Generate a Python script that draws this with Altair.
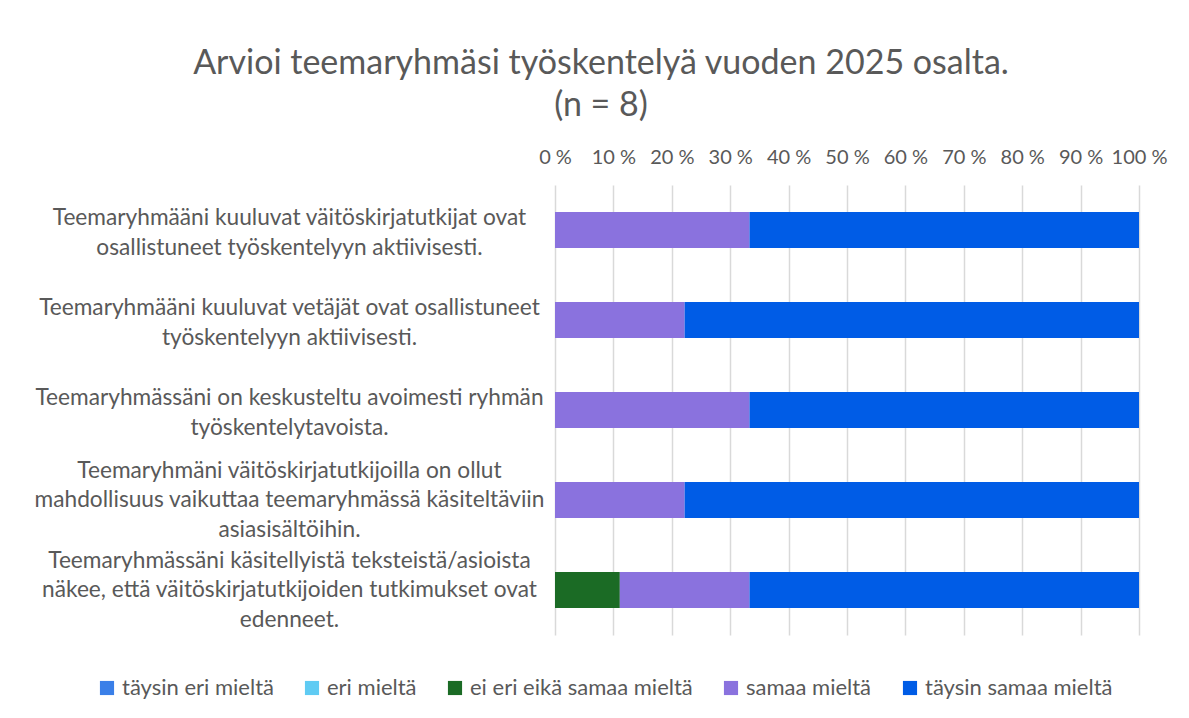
import altair as alt
import pandas as pd

questions = [
    "Teemaryhmääni kuuluvat väitöskirjatutkijat ovat|osallistuneet työskentelyyn aktiivisesti.",
    "Teemaryhmääni kuuluvat vetäjät ovat osallistuneet|työskentelyyn aktiivisesti.",
    "Teemaryhmässäni on keskusteltu avoimesti ryhmän|työskentelytavoista.",
    "Teemaryhmäni väitöskirjatutkijoilla on ollut|mahdollisuus vaikuttaa teemaryhmässä käsiteltäviin|asiasisältöihin.",
    "Teemaryhmässäni käsitellyistä teksteistä/asioista|näkee, että väitöskirjatutkijoiden tutkimukset ovat|edenneet.",
]
series = ["täysin eri mieltä", "eri mieltä", "ei eri eikä samaa mieltä", "samaa mieltä", "täysin samaa mieltä"]
colors = ["#3A7FE8", "#5FCBF3", "#1B6B25", "#8A72DE", "#005CE6"]

taysin_eri = [0, 0, 0, 0, 0]
eri = [0, 0, 0, 0, 0]
ei_eri_eika = [0, 0, 0, 0, 11.1]
samaa = [33.3, 22.2, 33.3, 22.2, 22.2]
taysin_samaa = [66.7, 77.8, 66.7, 77.8, 66.7]

values = [taysin_eri, eri, ei_eri_eika, samaa, taysin_samaa]
rows = []
for si, s in enumerate(series):
    for qi, q in enumerate(questions):
        rows.append({"q": q, "s": s, "v": values[si][qi], "o": si})
df = pd.DataFrame(rows)

FONT = "Lato"
GREY = "#595959"

chart = alt.Chart(df).mark_bar().encode(
    y=alt.Y("q:N", sort=questions, title=None,
            scale=alt.Scale(paddingInner=0.6, paddingOuter=0.3),
            axis=alt.Axis(labelExpr="split(datum.label, '|')", labelAlign="center",
                          labelBaseline="middle", labelPadding=266, labelLimit=700,
                          labelLineHeight=29.5, labelFontSize=22.7, labelColor=GREY,
                          labelFont=FONT, ticks=False, domain=False, grid=False,
                          labelOffset={"condition": {"test": "indexof(datum.label, '|') != lastindexof(datum.label, '|')",
                                                     "value": -29.5},
                                       "value": -12})),
    x=alt.X("v:Q", stack="zero", title=None,
            scale=alt.Scale(domain=[0, 100], nice=False),
            axis=alt.Axis(orient="top", values=list(range(0, 101, 10)),
                          labelExpr="datum.value + ' %'", labelFontSize=20,
                          labelColor=GREY, labelFont=FONT, ticks=False, domain=False,
                          labelOverlap=False, labelFlush=False,
                          grid=True, gridColor="#D9D9D9", gridWidth=1.5, labelPadding=18)),
    color=alt.Color("s:N", sort=series, scale=alt.Scale(domain=series, range=colors),
                    legend=alt.Legend(title=None, orient="none", direction="horizontal",
                                      legendX=-459, legendY=492, symbolType="square",
                                      symbolSize=200, symbolStrokeWidth=0, symbolOffset=0,
                                      labelFontSize=22, labelColor=GREY, labelFont=FONT,
                                      labelOffset=4,
                                      columnPadding=27, columns=5, labelLimit=400)),
    order=alt.Order("o:Q"),
).properties(
    width=584,
    height=450,
    padding={"left": 547, "top": 177, "right": 42, "bottom": 75},
    autosize=alt.AutoSizeParams(type="none"),
    title=alt.TitleParams(
        text=["Arvioi teemaryhmäsi työskentelyä vuoden 2025 osalta.", "(n = 8)"],
        fontSize=34, font=FONT, fontWeight="normal", color=GREY,
        anchor="middle", dx=-246, offset=24, lineHeight=42,
    ),
).configure_view(stroke=None)

chart.save("out.html", embed_options={"renderer": "svg", "actions": False})
